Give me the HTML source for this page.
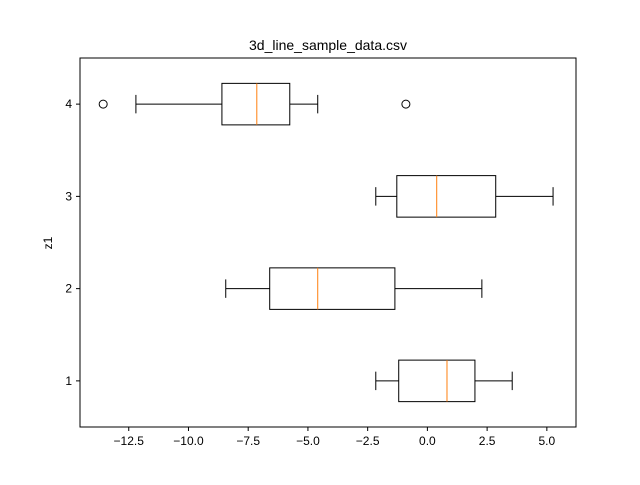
<!DOCTYPE html>
<html><head><meta charset="utf-8"><style>body{margin:0;background:#fff}svg{font-family:"Liberation Sans",sans-serif}</style></head>
<body>
<svg id="c" width="640" height="480"></svg>
<script>
const categories=[1,2,3,4];
const whiskerLow=[-2.16,-8.44,-2.16,-12.2];
const q1=[-1.2,-6.6,-1.28,-8.6];
const medians=[0.82,-4.59,0.39,-7.14];
const q3=[1.99,-1.36,2.86,-5.76];
const whiskerHigh=[3.55,2.28,5.26,-4.59];
const outliers=[[],[],[],[-13.57,-0.9]];
const xTicks=[-12.5,-10,-7.5,-5,-2.5,0,2.5,5];
const xTickLabels=["\u221212.5","\u221210.0","\u22127.5","\u22125.0","\u22122.5","0.0","2.5","5.0"];
const L=80,R=576,T=58,B=427,xmin=-14.54,xmax=6.22,ymin=0.5,ymax=4.5;
const X=v=>L+(v-xmin)/(xmax-xmin)*(R-L);
const Y=v=>B-(v-ymin)/(ymax-ymin)*(B-T);
const s=document.getElementById('c');const NS='http://www.w3.org/2000/svg';
function mk(t,a,txt){const e=document.createElementNS(NS,t);for(const k in a)e.setAttribute(k,a[k]);if(txt!==undefined)e.textContent=txt;s.appendChild(e);return e;}
categories.forEach((c,i)=>{const y=Y(c),h=0.45*(B-T)/(ymax-ymin)/2,cap=0.2*(B-T)/(ymax-ymin)/2;
let e;
e=mk('line',{x1:X(whiskerLow[i]),x2:X(q1[i]),y1:y,y2:y,stroke:'#000'});
e=mk('line',{x1:X(q3[i]),x2:X(whiskerHigh[i]),y1:y,y2:y,stroke:'#000'});
e=mk('line',{x1:X(whiskerLow[i]),x2:X(whiskerLow[i]),y1:y-cap,y2:y+cap,stroke:'#000'});
e=mk('line',{x1:X(whiskerHigh[i]),x2:X(whiskerHigh[i]),y1:y-cap,y2:y+cap,stroke:'#000'});
e=mk('rect',{x:X(q1[i]),y:y-h,width:X(q3[i])-X(q1[i]),height:2*h,fill:'none',stroke:'#000'});
e=mk('line',{x1:X(medians[i]),x2:X(medians[i]),y1:y-h,y2:y+h,stroke:'#ff7f0e'});
outliers[i].forEach(o=>{e=mk('circle',{cx:X(o),cy:y,r:4,fill:'none',stroke:'#000'});});
});
let e=mk('rect',{x:L,y:T,width:R-L,height:B-T,fill:'none',stroke:'#000'});
xTicks.forEach((t,i)=>{let a=mk('line',{x1:X(t),x2:X(t),y1:B,y2:B+4,stroke:'#000'});
a=mk('text',{x:X(t),y:B+18,'text-anchor':'middle','font-size':'12'},xTickLabels[i]);});
categories.forEach(c=>{let a=mk('line',{x1:L-4,x2:L,y1:Y(c),y2:Y(c),stroke:'#000'});
a=mk('text',{x:L-8,y:Y(c)+4,'text-anchor':'end','font-size':'12'},String(c));});
e=mk('text',{x:328,y:50,'text-anchor':'middle','font-size':'14'},'3d_line_sample_data.csv');
e=mk('text',{x:52,y:243,'text-anchor':'middle','font-size':'12',transform:'rotate(-90 52 243)'},'z1');
</script>
</body></html>
